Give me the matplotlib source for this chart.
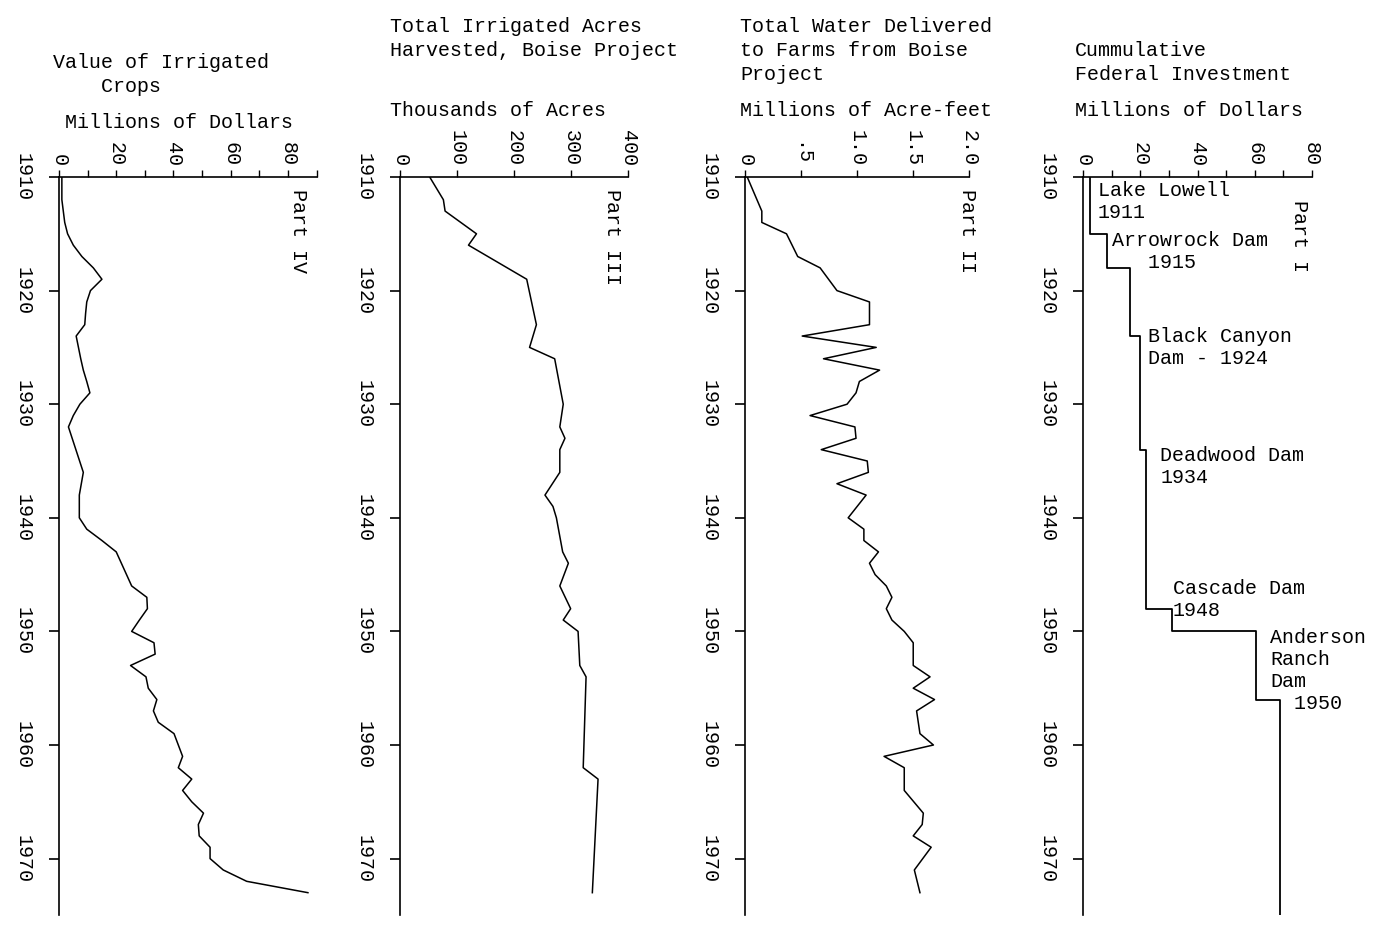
import matplotlib.pyplot as plt
from matplotlib.ticker import MultipleLocator, FuncFormatter

plt.rcParams['font.family'] = ['Liberation Mono', 'DejaVu Sans Mono']
plt.rcParams['font.size'] = 14.4

# ------------------------------- Data ----------------------------------------

# Part IV - value of irrigated crops, millions of dollars
crop_years = list(range(1910, 1974))
crop_values = [1.0, 1.0, 1.0, 1.5, 2.0, 3.0, 5.0, 8.0, 12.0, 15.0,
               11.0, 9.7, 9.3, 9.0, 6.0, 6.8, 7.6, 8.5, 9.7, 10.8,
               7.3, 5.0, 3.3, 4.6, 5.9, 7.2, 8.5, 7.8, 7.1, 7.1,
               7.1, 9.7, 15.0, 20.0, 21.8, 23.6, 25.4, 30.7, 30.9, 28.1,
               25.4, 33.2, 33.6, 25.0, 30.4, 31.2, 34.2, 33.0, 34.7, 40.2,
               41.7, 43.2, 41.7, 46.4, 43.2, 46.4, 50.5, 48.7, 49.0, 52.8,
               52.8, 57.4, 65.6, 87.0]

# Part III - irrigated acres harvested, thousands of acres
acre_years = [1910, 1912, 1913, 1915, 1916, 1919, 1923, 1925, 1926, 1930,
              1932, 1933, 1934, 1936, 1938, 1939, 1940, 1943, 1944, 1946,
              1948, 1949, 1950, 1953, 1954, 1962, 1963, 1973]
acre_values = [52, 76, 79, 134, 120, 222, 239, 227, 271, 286,
               280, 289, 280, 280, 254, 268, 274, 285, 295, 280,
               299, 286, 312, 315, 326, 321, 347, 337]

# Part II - water delivered to farms, millions of acre-feet
water_years = [1910, 1913, 1914, 1915, 1917, 1918, 1920, 1921, 1923, 1924,
               1925, 1926, 1927, 1928, 1929, 1930, 1931, 1932, 1933, 1934,
               1935, 1936, 1937, 1938, 1940, 1941, 1942, 1943, 1944, 1945,
               1946, 1947, 1948, 1949, 1950, 1951, 1953, 1954, 1955, 1956,
               1957, 1959, 1960, 1961, 1962, 1964, 1966, 1967, 1968, 1969,
               1971, 1973]
water_values = [0.02, 0.15, 0.15, 0.37, 0.47, 0.67, 0.82, 1.11, 1.11, 0.51,
                1.17, 0.70, 1.20, 1.02, 0.99, 0.91, 0.58, 0.98, 0.99, 0.68,
                1.09, 1.10, 0.82, 1.08, 0.92, 1.06, 1.06, 1.19, 1.11, 1.16,
                1.26, 1.31, 1.26, 1.31, 1.42, 1.50, 1.50, 1.65, 1.50, 1.69,
                1.53, 1.56, 1.68, 1.24, 1.42, 1.42, 1.59, 1.58, 1.50, 1.66,
                1.51, 1.56]

# Part I - cummulative federal investment, millions of dollars (step)
invest_years = [1910, 1915, 1918, 1924, 1934, 1948, 1950, 1956, 1975]
invest_values = [2.5, 8.2, 16.4, 20.0, 22.0, 31.0, 60.5, 69.0, 69.0]

dam_labels = ['Lake Lowell\n1911', 'Arrowrock Dam\n   1915',
              'Black Canyon\nDam - 1924', 'Deadwood Dam\n1934',
              'Cascade Dam\n1948', 'Anderson\nRanch\nDam\n  1950']
dam_label_x = [5.1, 10.1, 22.7, 26.9, 31.4, 65.4]
dam_label_y = [1912.2, 1916.6, 1925.0, 1935.5, 1947.2, 1953.4]

year_ticks = [1910, 1920, 1930, 1940, 1950, 1960, 1970]

# ------------------------------- Figure --------------------------------------

W, H = 1380, 925
fig = plt.figure(figsize=(W / 100, H / 100), dpi=100)
fig.patch.set_facecolor('white')

top_px, bottom_px = 177, 915.4


def make_axes(left_px, right_px, xmax, major, minor=None):
    ax = fig.add_axes([left_px / W, 1 - bottom_px / H,
                       (right_px - left_px) / W, (bottom_px - top_px) / H])
    ax.set_xlim(0, xmax)
    ax.set_ylim(1975, 1910)
    for side in ['right', 'bottom']:
        ax.spines[side].set_visible(False)
    for side in ['left', 'top']:
        ax.spines[side].set_linewidth(1.2)
    ax.xaxis.tick_top()
    ax.xaxis.set_major_locator(MultipleLocator(major))
    if minor:
        ax.xaxis.set_minor_locator(MultipleLocator(minor))
    ax.set_yticks(year_ticks)
    ax.yaxis.set_minor_locator(plt.NullLocator())
    ax.tick_params(axis='x', which='both', direction='out', length=5,
                   width=1.0, labelrotation=-90, pad=3)
    ax.tick_params(axis='y', which='both', direction='out', length=7,
                   width=1.2, labelrotation=-90, pad=12)
    plt.setp(ax.get_yticklabels(), va='center')
    return ax


# Part IV
ax4 = make_axes(59, 316.5, 90, 20, 10)
ax4.set_xticks([0, 20, 40, 60, 80])
ax4.plot(crop_values, crop_years, color='black', lw=1.1)
ax4.text(83.6, 1911.1, 'Part IV', rotation=270, ha='center', va='top')

# Part III
ax3 = make_axes(400, 628.3, 400, 100)
ax3.plot(acre_values, acre_years, color='black', lw=1.1)
ax3.text(373, 1911.1, 'Part III', rotation=270, ha='center', va='top')

# Part II
ax2 = make_axes(745, 969.3, 2.0, 0.5)
ax2.xaxis.set_major_formatter(FuncFormatter(
    lambda v, p: {0: '0', 0.5: '.5'}.get(v, '%.1f' % v)))
ax2.plot(water_values, water_years, color='black', lw=1.1)
ax2.text(1.98, 1911.1, 'Part II', rotation=270, ha='center', va='top')

# Part I
ax1 = make_axes(1083.3, 1311.7, 80, 20, 10)
ax1.plot(invest_values, invest_years, color='black', lw=1.3,
         drawstyle='steps-pre')
ax1.text(75.9, 1912.0, 'Part I', rotation=270, ha='center', va='top')
for lab, lx, ly in zip(dam_labels, dam_label_x, dam_label_y):
    ax1.text(lx, ly, lab, ha='left', va='center', linespacing=1.2)

# ------------------------------- Titles --------------------------------------


def title(x_px, y_px, s):
    fig.text(x_px / W, 1 - y_px / H, s, ha='left', va='center')


title(53, 62, 'Value of Irrigated')
title(53, 86, '    Crops')
title(65, 122, 'Millions of Dollars')

title(390, 26, 'Total Irrigated Acres')
title(390, 50, 'Harvested, Boise Project')
title(390, 111, 'Thousands of Acres')

title(740, 26, 'Total Water Delivered')
title(740, 51, 'to Farms from Boise')
title(740, 75, 'Project')
title(740, 111, 'Millions of Acre-feet')

title(1075, 51, 'Cummulative')
title(1075, 75, 'Federal Investment')
title(1075, 111, 'Millions of Dollars')

fig.savefig('out.png', dpi=100, facecolor='white')
